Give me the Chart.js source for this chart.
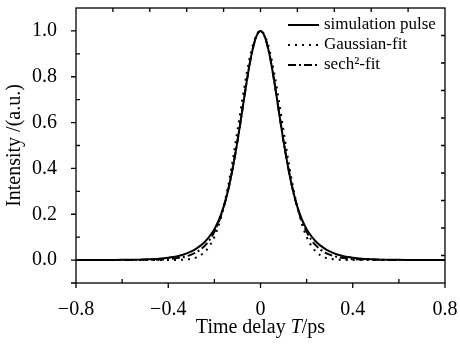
<!DOCTYPE html>
<html>
<head>
<meta charset="utf-8">
<script src="https://cdn.jsdelivr.net/npm/chart.js@4.4.1/dist/chart.umd.min.js"></script>
<style>
  html, body { margin: 0; padding: 0; background: #fff; }
  canvas { display: block; }
</style>
</head>
<body>
<canvas id="pulseChart" width="460" height="344"></canvas>
<script>
// 펄스 세기 비교 차트 (simulation / Gaussian / sech2)

// 시간축 (ps)
var timeValues = [-0.8, -0.7, -0.6, -0.52, -0.48, -0.44, -0.40, -0.38, -0.36, -0.34, -0.32, -0.30,
    -0.28, -0.26, -0.24, -0.22, -0.20, -0.18, -0.16, -0.14, -0.12, -0.10, -0.08, -0.06, -0.04, -0.02,
    0,
    0.02, 0.04, 0.06, 0.08, 0.10, 0.12, 0.14, 0.16, 0.18, 0.20, 0.22, 0.24, 0.26, 0.28,
    0.30, 0.32, 0.34, 0.36, 0.38, 0.40, 0.44, 0.48, 0.52, 0.6, 0.7, 0.8];

// simulation pulse
var simulationValues = [0, 0, 0.001, 0.002, 0.004, 0.006, 0.010, 0.013, 0.017, 0.022, 0.029, 0.038,
    0.049, 0.063, 0.081, 0.105, 0.135, 0.176, 0.232, 0.307, 0.404, 0.518, 0.647, 0.778, 0.892, 0.971,
    1.0,
    0.971, 0.892, 0.778, 0.647, 0.518, 0.404, 0.307, 0.232, 0.176, 0.135, 0.105, 0.081, 0.063, 0.049,
    0.038, 0.029, 0.022, 0.017, 0.013, 0.010, 0.006, 0.004, 0.002, 0.001, 0, 0];

// Gaussian-fit
var gaussianValues = [0, 0, 0, 0, 0, 0, 0, 0, 0.001, 0.001, 0.003, 0.006,
    0.011, 0.021, 0.037, 0.063, 0.101, 0.156, 0.231, 0.325, 0.438, 0.564, 0.693, 0.814, 0.912, 0.977,
    1.0,
    0.977, 0.912, 0.814, 0.693, 0.564, 0.438, 0.325, 0.231, 0.156, 0.101, 0.063, 0.037, 0.021, 0.011,
    0.006, 0.003, 0.001, 0.001, 0, 0, 0, 0, 0, 0, 0, 0];

// sech2-fit
var sechValues = [0, 0, 0, 0.001, 0.001, 0.002, 0.004, 0.006, 0.009, 0.012, 0.017, 0.024,
    0.033, 0.046, 0.064, 0.089, 0.123, 0.169, 0.229, 0.307, 0.404, 0.518, 0.647, 0.778, 0.892, 0.971,
    1.0,
    0.971, 0.892, 0.778, 0.647, 0.518, 0.404, 0.307, 0.229, 0.169, 0.123, 0.089, 0.064, 0.046, 0.033,
    0.024, 0.017, 0.012, 0.009, 0.006, 0.004, 0.002, 0.001, 0.001, 0, 0, 0];

var seriesNames = ['simulation pulse', 'Gaussian-fit', 'sech\u00B2-fit'];

// 눈금 값
var xTickValues = [-0.8, -0.4, 0, 0.4, 0.8];
var xMinorTicks = [-0.6, -0.2, 0.2, 0.6];
var xTopTicks = [-0.64, -0.48, -0.32, -0.16, 0, 0.16, 0.32, 0.48, 0.64];
var yTickValues = [0.0, 0.2, 0.4, 0.6, 0.8, 1.0];
var yMinorTicks = [0.1, 0.3, 0.5, 0.7, 0.9];
var yRightTicks = [0.98, 0.86, 0.74, 0.62, 0.50, 0.38, 0.26, 0.14, 0.02];

var serifFont = '"Liberation Serif", "Times New Roman", serif';

function toPoints(values) {
    return timeValues.map(function (t, i) { return { x: t, y: values[i] }; });
}

// 테두리, 눈금, 범례, x축 제목 그리기
var framePlugin = {
    id: 'framePlugin',
    afterDraw: function (chart) {
        var ctx = chart.ctx;
        var a = chart.chartArea;
        var xs = chart.scales.x;
        var ys = chart.scales.y;

        ctx.save();
        ctx.strokeStyle = '#000';
        ctx.lineWidth = 1.3;
        ctx.strokeRect(a.left, a.top, a.right - a.left, a.bottom - a.top);

        ctx.beginPath();
        xTickValues.forEach(function (v) {
            var px = xs.getPixelForValue(v);
            ctx.moveTo(px, a.bottom); ctx.lineTo(px, a.bottom + 5);
        });
        xMinorTicks.forEach(function (v) {
            var px = xs.getPixelForValue(v);
            ctx.moveTo(px, a.bottom); ctx.lineTo(px, a.bottom - 4);
        });
        xTopTicks.forEach(function (v) {
            var px = xs.getPixelForValue(v);
            ctx.moveTo(px, a.top); ctx.lineTo(px, a.top + 4);
        });
        yTickValues.forEach(function (v) {
            var py = ys.getPixelForValue(v);
            ctx.moveTo(a.left, py); ctx.lineTo(a.left - 5, py);
        });
        yMinorTicks.forEach(function (v) {
            var py = ys.getPixelForValue(v);
            ctx.moveTo(a.left, py); ctx.lineTo(a.left + 4, py);
        });
        yRightTicks.forEach(function (v) {
            var py = ys.getPixelForValue(v);
            ctx.moveTo(a.right, py); ctx.lineTo(a.right - 4, py);
        });
        // 왼쪽 아래 모서리
        ctx.moveTo(a.left, a.bottom); ctx.lineTo(a.left - 5, a.bottom);
        ctx.stroke();

        // 범례
        ctx.font = '17px ' + serifFont;
        ctx.textBaseline = 'middle';
        ctx.textAlign = 'left';
        ctx.fillStyle = '#000';
        chart.data.datasets.forEach(function (ds, i) {
            var ly = a.top + 17 + i * 20;
            ctx.save();
            ctx.lineWidth = ds.borderWidth;
            ctx.setLineDash(ds.borderDash || []);
            ctx.beginPath();
            ctx.moveTo(288, ly);
            ctx.lineTo(319, ly);
            ctx.stroke();
            ctx.restore();
            ctx.fillText(ds.label, 324, ly);
        });

        // x축 제목 (T 이탤릭)
        var parts = [
            { text: 'Time delay ', font: '20px ' + serifFont },
            { text: 'T', font: 'italic 20px ' + serifFont },
            { text: '/ps', font: '20px ' + serifFont }
        ];
        var total = 0;
        parts.forEach(function (p) { ctx.font = p.font; p.w = ctx.measureText(p.text).width; total += p.w; });
        var tx = (a.left + a.right) / 2 - total / 2;
        parts.forEach(function (p) {
            ctx.font = p.font;
            ctx.fillText(p.text, tx, 328);
            tx += p.w;
        });
        ctx.restore();
    }
};

var ctx = document.getElementById('pulseChart').getContext('2d');

var pulseChart = new Chart(ctx, {
    type: 'line',
    data: {
        datasets: [
            {
                label: seriesNames[0],
                data: toPoints(simulationValues),
                borderColor: '#000',
                borderWidth: 2,
                pointRadius: 0,
                cubicInterpolationMode: 'monotone',
                fill: false
            },
            {
                label: seriesNames[1],
                data: toPoints(gaussianValues),
                borderColor: '#000',
                borderWidth: 2,
                borderDash: [2, 5],
                pointRadius: 0,
                cubicInterpolationMode: 'monotone',
                fill: false
            },
            {
                label: seriesNames[2],
                data: toPoints(sechValues),
                borderColor: '#000',
                borderWidth: 2,
                borderDash: [8, 3, 2, 3],
                pointRadius: 0,
                cubicInterpolationMode: 'monotone',
                fill: false
            }
        ]
    },
    options: {
        responsive: false,
        animation: false,
        devicePixelRatio: 1,
        layout: { padding: { top: 8, right: 15, left: 0, bottom: 0 } },
        plugins: {
            legend: { display: false },
            tooltip: { enabled: false }
        },
        scales: {
            x: {
                type: 'linear',
                min: -0.8,
                max: 0.8,
                afterBuildTicks: function (scale) {
                    scale.ticks = xTickValues.map(function (v) { return { value: v }; });
                },
                afterFit: function (scale) {
                    scale.height = 61;
                    scale.paddingLeft = 0;
                    scale.paddingRight = 0;
                },
                grid: { display: false },
                border: { display: false },
                ticks: {
                    color: '#000',
                    padding: 7,
                    maxRotation: 0,
                    font: { family: serifFont, size: 20 },
                    callback: function (v) {
                        if (v === 0) return '0';
                        return (v < 0 ? '\u2212' : '') + Math.abs(v).toFixed(1);
                    }
                }
            },
            y: {
                type: 'linear',
                min: -0.1,
                max: 1.1,
                afterBuildTicks: function (scale) {
                    scale.ticks = yTickValues.map(function (v) { return { value: v }; });
                },
                afterFit: function (scale) {
                    scale.width = 76;
                    scale.paddingTop = 0;
                    scale.paddingBottom = 0;
                },
                grid: { display: false },
                border: { display: false },
                title: {
                    display: true,
                    text: 'Intensity /(a.u.)',
                    color: '#000',
                    font: { family: serifFont, size: 20 },
                    padding: { top: 3, bottom: 0 }
                },
                ticks: {
                    color: '#000',
                    padding: 11,
                    font: { family: serifFont, size: 20 },
                    callback: function (v) { return v.toFixed(1); }
                }
            }
        }
    },
    plugins: [framePlugin]
});
</script>
</body>
</html>
